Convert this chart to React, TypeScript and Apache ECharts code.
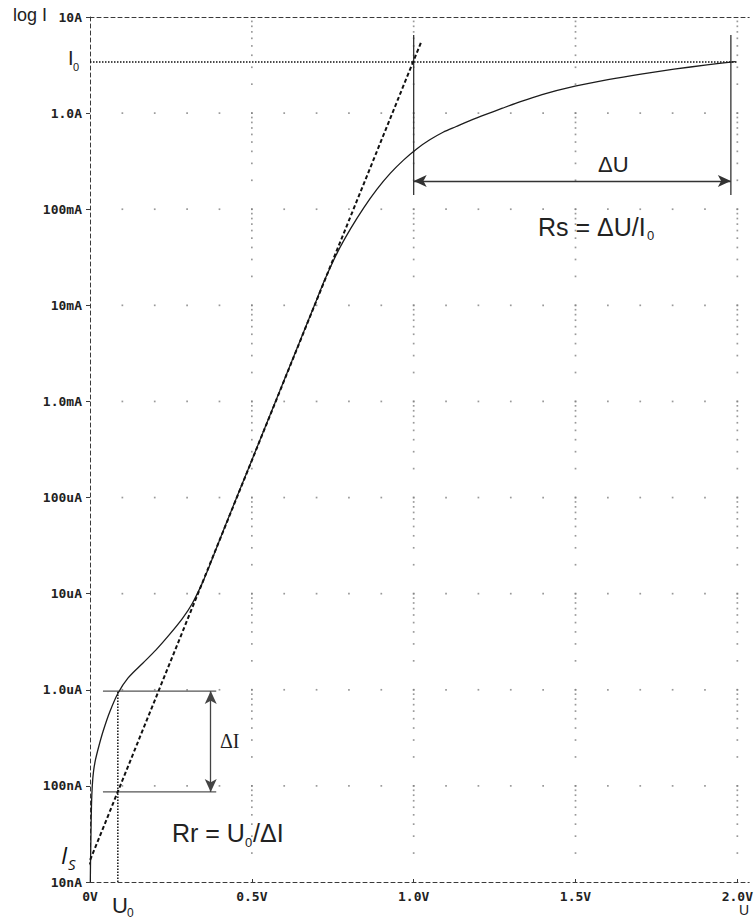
import React, { useEffect, useRef } from "react";
import * as echarts from "echarts";

// ---- data ----
const curveV = [0.001, 0.0015, 0.003, 0.0046, 0.007, 0.0107, 0.0168, 0.0275, 0.0407, 0.0612, 0.0865, 0.1171, 0.163, 0.204, 0.2446, 0.2853, 0.316, 0.3465, 0.372, 0.42, 0.5, 0.6, 0.7, 0.7239, 0.7645, 0.8052, 0.8462, 0.8869, 0.9275, 0.9685, 1.0092, 1.0498, 1.0908, 1.1315, 1.1722, 1.2232, 1.2743, 1.315, 1.3966, 1.4985, 1.6003, 1.7024, 1.8043, 1.9061, 1.9939];
const curveI = [1.0e-8, 1.5e-8, 3.1e-8, 6.3e-8, 1.0e-7, 1.4e-7, 1.86e-7, 2.6e-7, 3.72e-7, 5.9e-7, 9.2e-7, 1.32e-6, 1.89e-6, 2.6e-6, 3.72e-6, 5.5e-6, 7.9e-6, 1.28e-5, 2.06e-5, 5.3e-5, 2.45e-4, 1.67e-3, 1.135e-2, 0.018, 0.0356, 0.0628, 0.1041, 0.1619, 0.2358, 0.3243, 0.4241, 0.5275, 0.6328, 0.7254, 0.8295, 0.9694, 1.125, 1.262, 1.557, 1.905, 2.227, 2.546, 2.862, 3.175, 3.427];

const tangentV = [-0.022, 1.025];
const tangentI = [1.1e-8, 5.7];

const I0 = 3.4;
const I0LineV = [0, 2.0];
const U0 = 0.086;
const dIUpper = 9.7e-7;
const dILower = 8.65e-8;
const dILineV = [0.04, 0.39];
const dIArrowV = 0.373;
const dUStart = 1.0;
const dUEnd = 1.98;
const dUArrowI = 0.197;
const rsLineI = [6.5, 0.141];

const xTickValues = [0, 0.5, 1.0, 1.5, 2.0];
const xTickLabels = ["0V", "0.5V", "1.0V", "1.5V", "2.0V"];
const yTickLabels = ["10nA", "100nA", "1.0uA", "10uA", "100uA", "1.0mA", "10mA", "100mA", "1.0A", "10A"];
const yDecades = [-8, -7, -6, -5, -4, -3, -2, -1, 0, 1];
const xMinorStep = 0.1;
const logMinor = [1, 2, 3, 4, 5, 6, 7, 8, 9];

const zip = (a: number[], b: number[]) => a.map((v, i) => [v, b[i]]);

function gridDots() {
  const pts: number[][] = [];
  // dots along the major vertical grid lines at log minor positions
  for (const xv of xTickValues.slice(1)) {
    for (const d of yDecades.slice(0, -1)) {
      for (const m of logMinor) {
        if (d === -8 && m === 1) continue;
        pts.push([xv, m * Math.pow(10, d)]);
      }
    }
  }
  // dots along the decade lines at every 0.1 V
  for (const d of yDecades.slice(1, -1)) {
    for (let k = 1; k <= 20; k++) {
      pts.push([+(k * xMinorStep).toFixed(2), Math.pow(10, d)]);
    }
  }
  return pts;
}

const AX = "#3a3a3a";
const SANS = "'Liberation Sans', Arial, sans-serif";
const MONO = "'DejaVu Sans Mono', monospace";

export default function App() {
  const ref = useRef<HTMLDivElement>(null);
  useEffect(() => {
    if (!ref.current) return;
    const chart = echarts.init(ref.current, undefined, { renderer: "svg" });
    const dashed = { color: AX, width: 1, type: [4, 3] as any };
    const xMax = 2.0 + 12 / 327;
    chart.setOption({
      animation: false,
      backgroundColor: "#ffffff",
      grid: { left: 90, right: 0, top: 17, bottom: 37 },
      xAxis: [
        {
          type: "value",
          min: 0,
          max: xMax,
          interval: 0.5,
          position: "bottom",
          axisLine: { show: true, lineStyle: dashed },
          axisTick: { show: true, inside: true, length: 3, lineStyle: { color: AX } },
          splitLine: { show: false },
          axisLabel: {
            margin: 8,
            showMaxLabel: false,
            fontFamily: MONO,
            fontWeight: "bold",
            fontSize: 13,
            color: "#222",
            formatter: (v: number) => {
              const i = xTickValues.findIndex((t) => Math.abs(t - v) < 1e-6);
              return i >= 0 ? xTickLabels[i] : "";
            },
          },
        },
        {
          type: "value",
          min: 0,
          max: xMax,
          interval: 0.5,
          position: "top",
          axisLine: { show: true, lineStyle: dashed },
          axisTick: { show: false },
          axisLabel: { show: false },
          splitLine: { show: false },
        },
      ],
      yAxis: {
        type: "log",
        logBase: 10,
        min: 1e-8,
        max: 10,
        splitNumber: 10,
        axisLine: { show: true, lineStyle: dashed },
        axisTick: { show: true, length: 4, lineStyle: { color: AX } },
        splitLine: { show: false },
        minorTick: { show: false },
        axisLabel: {
          margin: 8,
          fontFamily: MONO,
          fontWeight: "bold",
          fontSize: 13,
          color: "#222",
          formatter: (v: number) => {
            const i = Math.round(Math.log10(v)) + 8;
            return yTickLabels[i] ?? "";
          },
        },
      },
      series: [
        {
          type: "scatter",
          silent: true,
          symbol: "rect",
          symbolSize: 1.7,
          itemStyle: { color: "#808080" },
          data: gridDots(),
          z: 1,
        },
        {
          type: "line",
          data: zip(curveV, curveI),
          showSymbol: false,
          smooth: 0.3,
          lineStyle: { color: "#1c1c1c", width: 1.3 },
          z: 5,
        },
        {
          type: "line",
          data: zip(tangentV, tangentI),
          showSymbol: false,
          clip: false,
          lineStyle: { color: "#111", width: 2, type: [4, 2.5] },
          z: 6,
        },
        {
          type: "line",
          data: [[I0LineV[0], I0], [I0LineV[1], I0]],
          showSymbol: false,
          lineStyle: { color: "#111", width: 1.5, type: [1.5, 1.5] },
          z: 4,
        },
        {
          type: "line",
          data: [[U0, 1e-8], [U0, dIUpper]],
          showSymbol: false,
          lineStyle: { color: "#111", width: 1.5, type: [1.5, 1.5] },
          z: 4,
        },
        {
          type: "line",
          data: [[dILineV[0], dIUpper], [dILineV[1], dIUpper]],
          showSymbol: false,
          lineStyle: { color: "#555", width: 1.3 },
          z: 4,
          markLine: {
            silent: true,
            symbol: ["arrow", "arrow"],
            symbolSize: [9, 13],
            label: { show: false },
            lineStyle: { color: "#444", width: 1.3, type: "solid" },
            data: [[{ coord: [dIArrowV, dIUpper] }, { coord: [dIArrowV, dILower] }]],
          },
        },
        {
          type: "line",
          data: [[dILineV[0], dILower], [dILineV[1], dILower]],
          showSymbol: false,
          lineStyle: { color: "#555", width: 1.3 },
          z: 4,
        },
        {
          type: "line",
          data: [[dUStart, rsLineI[0]], [dUStart, rsLineI[1]]],
          showSymbol: false,
          lineStyle: { color: "#333", width: 1.3 },
          z: 4,
          markLine: {
            silent: true,
            symbol: ["arrow", "arrow"],
            symbolSize: [9, 13],
            label: { show: false },
            lineStyle: { color: "#333", width: 1.3, type: "solid" },
            data: [[{ coord: [dUStart, dUArrowI] }, { coord: [dUEnd, dUArrowI] }]],
          },
        },
        {
          type: "line",
          data: [[dUEnd, rsLineI[0]], [dUEnd, rsLineI[1]]],
          showSymbol: false,
          lineStyle: { color: "#333", width: 1.3 },
          z: 4,
        },
      ],
      graphic: [
        { type: "text", x: 13, y: 6, style: { text: "log I", font: `18px ${SANS}`, fill: "#222" } },
        { type: "text", x: 68, y: 48, style: { text: "I", font: `20px ${SANS}`, fill: "#222" } },
        { type: "text", x: 73, y: 61, style: { text: "0", font: `11px ${SANS}`, fill: "#222" } },
        { type: "text", x: 61, y: 843, style: { text: "I", font: `italic 23px 'Open Sans', sans-serif`, fill: "#111" } },
        { type: "text", x: 68, y: 856, style: { text: "S", font: `italic 15px 'Open Sans', sans-serif`, fill: "#111" } },
        { type: "text", x: 112, y: 894, style: { text: "U", font: `22px ${SANS}`, fill: "#222" } },
        { type: "text", x: 127, y: 907, style: { text: "0", font: `12px ${SANS}`, fill: "#222" } },
        { type: "text", x: 739, y: 903, style: { text: "U", font: `14px ${SANS}`, fill: "#222" } },
        { type: "text", x: 220, y: 731, style: { text: "ΔI", font: `20px 'Liberation Serif', serif`, fill: "#222" } },
        { type: "text", x: 172, y: 820, style: { text: "Rr = U", font: `25px ${SANS}`, fill: "#222" } },
        { type: "text", x: 245, y: 836, style: { text: "0", font: `13px ${SANS}`, fill: "#222" } },
        { type: "text", x: 253, y: 820, style: { text: "/ΔI", font: `25px ${SANS}`, fill: "#222" } },
        { type: "text", x: 598, y: 153, style: { text: "ΔU", font: `22px ${SANS}`, fill: "#222" } },
        { type: "text", x: 538, y: 214, style: { text: "Rs = ΔU/I", font: `25px ${SANS}`, fill: "#222" } },
        { type: "text", x: 647, y: 229, style: { text: "0", font: `13px ${SANS}`, fill: "#222" } },
      ],
    });
    return () => chart.dispose();
  }, []);
  return (
    <div
      ref={ref}
      style={{ position: "absolute", left: 0, top: 0, width: 756, height: 919, background: "#fff" }}
    />
  );
}
